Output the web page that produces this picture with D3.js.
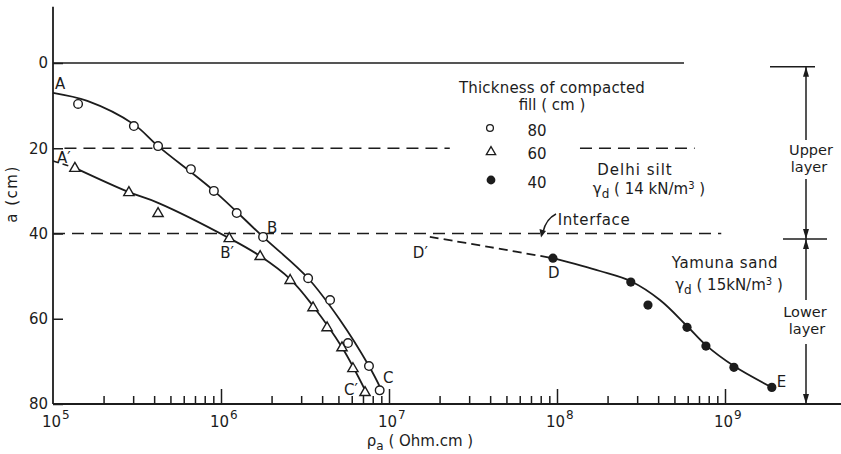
<!DOCTYPE html>
<html>
<head>
<meta charset="utf-8">
<script src="https://cdn.jsdelivr.net/npm/d3@7"></script>
<style>
  html, body { margin: 0; padding: 0; background: #fff; }
  svg { display: block; }
  text { font-family: "DejaVu Sans", sans-serif; fill: #1c1c1c; }
</style>
</head>
<body>
<svg id="chart" width="841" height="454"></svg>
<script>
// Apparent resistivity rho_a (ohm.cm) against electrode spacing a (cm)
// for three thicknesses of compacted fill over sand.

// 80 cm fill (open circles)
const fill80Rho   = [1.41e5, 3.03e5, 4.22e5, 6.62e5, 9.07e5, 1.24e6, 1.78e6, 3.3e6, 4.46e6, 5.7e6, 7.6e6, 8.8e6];
const fill80Depth = [9.6, 14.8, 19.5, 24.9, 30.0, 35.2, 40.8, 50.5, 55.6, 65.7, 71.1, 76.8];

// 60 cm fill (open triangles)
const fill60Rho   = [1.35e5, 2.83e5, 4.22e5, 1.12e6, 1.71e6, 2.58e6, 3.53e6, 4.28e6, 5.25e6, 6.1e6, 7.2e6];
const fill60Depth = [24.6, 30.3, 35.2, 41.1, 45.3, 50.9, 57.3, 62.0, 66.7, 71.6, 77.2];

// 40 cm fill (filled circles)
const fill40Rho   = [9.46e7, 2.75e8, 3.48e8, 5.94e8, 7.7e8, 1.13e9, 1.9e9];
const fill40Depth = [45.8, 51.4, 56.8, 62.0, 66.4, 71.4, 76.1];

// Fitted curves A–B–C, A'–B'–C' and D'–D–E
const curveARho     = [1e5, 1.6e5, 3.03e5, 4.22e5, 9.08e5, 1.78e6, 3.3e6, 5.11e6, 7.6e6, 8.96e6];
const curveADepth   = [7.0, 8.9, 14.4, 19.5, 30.0, 40.8, 50.5, 60.3, 71.1, 76.5];
const curveA1DashRho   = [1e5, 1.35e5];
const curveA1DashDepth = [23.0, 24.6];
const curveA1Rho    = [1.35e5, 2.83e5, 4.22e5, 1.12e6, 1.71e6, 2.58e6, 3.53e6, 5.25e6, 7.3e6];
const curveA1Depth  = [24.6, 30.3, 32.8, 41.1, 45.3, 50.7, 57.0, 66.7, 77.2];
const curveDDashRho   = [1.75e7, 4.0e7, 9.46e7];
const curveDDashDepth = [40.8, 43.2, 45.8];
const curveDRho     = [9.46e7, 1.8e8, 2.75e8, 4.1e8, 5.94e8, 7.7e8, 1.13e9, 1.9e9];
const curveDDepth   = [45.8, 48.8, 51.2, 55.6, 61.7, 66.2, 71.1, 76.1];

// Axis ticks
const yTicks = [0, 20, 40, 60, 80];
const decadeTicks = [1e5, 1e6, 1e7, 1e8, 1e9];
const decadeExponents = ["5", "6", "7", "8", "9"];
const minorTicks = [1e5, 1e6, 1e7, 1e8].flatMap(d => [2, 3, 4, 5, 6, 7, 8, 9].map(m => m * d));

// Layer boundaries
const surfaceDepth = 0;
const siltLineDepth = 20;
const interfaceDepth = 40;

const ink = "#1c1c1c";
const svg = d3.select("#chart");

const x = d3.scaleLog().domain([1e5, 1e9]).range([53, 725]);
const y = d3.scaleLinear().domain([0, 80]).range([63, 404]);

const line = d3.line()
  .x(d => x(d[0])).y(d => y(d[1]))
  .curve(d3.curveCatmullRom.alpha(0.5));
const zip = (a, b) => a.map((v, i) => [v, b[i]]);

// ---- axes ----
const axisG = svg.append("g");
axisG.append("line")
  .attr("x1", 53).attr("x2", 53).attr("y1", y(-13.2)).attr("y2", y(80))
  .attr("stroke", ink).attr("stroke-width", 1.8);
axisG.append("line")
  .attr("x1", 53).attr("x2", 841).attr("y1", y(80)).attr("y2", y(80))
  .attr("stroke", ink).attr("stroke-width", 1.8);

const minorAxis = svg.append("g").attr("transform", `translate(0,${y(80)})`)
  .call(d3.axisBottom(x).tickValues(minorTicks).tickSize(-8).tickSizeOuter(0).tickFormat(""));
const majorAxis = svg.append("g").attr("transform", `translate(0,${y(80)})`)
  .call(d3.axisBottom(x).tickValues(decadeTicks.slice(1)).tickSize(-15).tickSizeOuter(0).tickFormat(""));
[minorAxis, majorAxis].forEach(g => {
  g.select(".domain").remove();
  g.selectAll(".tick line").attr("stroke", ink).attr("stroke-width", 1.5);
});

const leftAxis = svg.append("g").attr("transform", "translate(53,0)")
  .call(d3.axisLeft(y).tickValues(yTicks).tickSize(-10).tickPadding(5));
leftAxis.select(".domain").remove();
leftAxis.selectAll(".tick line").attr("stroke", ink).attr("stroke-width", 1.5);
leftAxis.selectAll(".tick text")
  .attr("fill", ink).style("font-size", "15px")
  .style("font-family", "'DejaVu Sans', sans-serif");

// decade labels: 10 with superscript exponent
decadeTicks.forEach((v, i) => {
  const cx = x(v);
  svg.append("text").attr("x", cx + 8).attr("y", 427)
    .attr("text-anchor", "end").style("font-size", "15px").text("10");
  svg.append("text").attr("x", cx + 9).attr("y", 419)
    .attr("text-anchor", "start").style("font-size", "12px").text(decadeExponents[i]);
});

// axis titles
const xTitle = svg.append("text").attr("x", 420).attr("y", 446)
  .attr("text-anchor", "middle").style("font-size", "15px");
xTitle.append("tspan").text("ρ");
xTitle.append("tspan").attr("dy", 4).style("font-size", "12px").text("a");
xTitle.append("tspan").attr("dy", -4).text(" ( Ohm.cm )");

svg.append("text")
  .attr("transform", "translate(17,194) rotate(-90)")
  .attr("text-anchor", "middle").style("font-size", "15px")
  .style("letter-spacing", "1.5px").text("a (cm)");

// ---- reference lines ----
svg.append("line")
  .attr("x1", 53).attr("x2", x(5.7e8)).attr("y1", y(surfaceDepth)).attr("y2", y(surfaceDepth))
  .attr("stroke", ink).attr("stroke-width", 1.6);

const dash = "12,7";
[[1.17e5, 2.3e7], [1.37e8, 6.6e8]].forEach(([a, b]) => {
  svg.append("line")
    .attr("x1", x(a)).attr("x2", x(b)).attr("y1", y(siltLineDepth)).attr("y2", y(siltLineDepth))
    .attr("stroke", ink).attr("stroke-width", 1.5).attr("stroke-dasharray", dash);
});
svg.append("line")
  .attr("x1", 53).attr("x2", x(9.5e8)).attr("y1", y(interfaceDepth)).attr("y2", y(interfaceDepth))
  .attr("stroke", ink).attr("stroke-width", 1.5).attr("stroke-dasharray", dash);

// ---- curves ----
const curves = svg.append("g").attr("fill", "none").attr("stroke", ink);
curves.append("path").attr("d", line(zip(curveARho, curveADepth))).attr("stroke-width", 1.8);
curves.append("path").attr("d", line(zip(curveA1Rho, curveA1Depth))).attr("stroke-width", 1.8);
curves.append("path").attr("d", line(zip(curveDRho, curveDDepth))).attr("stroke-width", 1.8);
curves.append("path").attr("d", line(zip(curveA1DashRho, curveA1DashDepth)))
  .attr("stroke-width", 1.6).attr("stroke-dasharray", "6,4");
curves.append("path").attr("d", line(zip(curveDDashRho, curveDDashDepth)))
  .attr("stroke-width", 1.8).attr("stroke-dasharray", "9,5");

// ---- markers ----
const tri = d3.symbol(d3.symbolTriangle, 46);
svg.append("g").selectAll("circle").data(zip(fill80Rho, fill80Depth)).join("circle")
  .attr("cx", d => x(d[0])).attr("cy", d => y(d[1])).attr("r", 4.3)
  .attr("fill", "#fff").attr("stroke", ink).attr("stroke-width", 1.4);
svg.append("g").selectAll("path").data(zip(fill60Rho, fill60Depth)).join("path")
  .attr("d", tri).attr("transform", d => `translate(${x(d[0])},${y(d[1]) + 0.5})`)
  .attr("fill", "#fff").attr("stroke", ink).attr("stroke-width", 1.4);
svg.append("g").selectAll("circle").data(zip(fill40Rho, fill40Depth)).join("circle")
  .attr("cx", d => x(d[0])).attr("cy", d => y(d[1])).attr("r", 4.6)
  .attr("fill", ink);

// ---- point labels ----
const pointLabels = [
  { t: "A",  rho: 1e5,    depth: 7.0,  dx: 2,   dy: -4 },
  { t: "A′", rho: 1e5,    depth: 23.0, dx: 4,   dy: 2 },
  { t: "B",  rho: 1.78e6, depth: 40.8, dx: 4,   dy: -4 },
  { t: "B′", rho: 1.12e6, depth: 41.1, dx: -9,  dy: 20 },
  { t: "C",  rho: 8.96e6, depth: 76.5, dx: 2,   dy: -6 },
  { t: "C′", rho: 7.3e6,  depth: 77.2, dx: -22, dy: 3 },
  { t: "D′", rho: 1.75e7, depth: 40.8, dx: -17, dy: 21 },
  { t: "D",  rho: 9.46e7, depth: 45.8, dx: -5,  dy: 20 },
  { t: "E",  rho: 1.9e9,  depth: 76.1, dx: 5,   dy: 0 }
];
svg.append("g").selectAll("text").data(pointLabels).join("text")
  .attr("x", d => x(d.rho) + d.dx).attr("y", d => y(d.depth) + d.dy)
  .style("font-size", "15px").text(d => d.t);

// ---- legend ----
const legend = svg.append("g").style("font-size", "15px");
legend.append("text").attr("x", 552).attr("y", 93).attr("text-anchor", "middle")
  .style("letter-spacing", "0.2px").text("Thickness of compacted");
legend.append("text").attr("x", 552).attr("y", 110).attr("text-anchor", "middle")
  .text("fill ( cm )");
const legendRows = [
  { label: "80", cy: 128 },
  { label: "60", cy: 151 },
  { label: "40", cy: 180 }
];
legend.append("circle").attr("cx", 490).attr("cy", legendRows[0].cy).attr("r", 3.4)
  .attr("fill", "#fff").attr("stroke", ink).attr("stroke-width", 1.3);
legend.append("path").attr("d", d3.symbol(d3.symbolTriangle, 38))
  .attr("transform", `translate(491,${legendRows[1].cy + 1})`)
  .attr("fill", "#fff").attr("stroke", ink).attr("stroke-width", 1.3);
legend.append("circle").attr("cx", 491).attr("cy", legendRows[2].cy).attr("r", 4.4)
  .attr("fill", ink);
legendRows.forEach(r => {
  legend.append("text").attr("x", 537).attr("y", r.cy + 8).attr("text-anchor", "middle").text(r.label);
});

// soil annotations
function gammaLabel(cx, baseline, value) {
  const t = svg.append("text").attr("x", cx).attr("y", baseline)
    .attr("text-anchor", "middle").style("font-size", "15px");
  t.append("tspan").text("γ");
  t.append("tspan").attr("dy", 4).style("font-size", "12px").text("d");
  t.append("tspan").attr("dy", -4).text(` ( ${value}kN/m`);
  t.append("tspan").attr("dy", -5).style("font-size", "10px").text("3");
  t.append("tspan").attr("dy", 5).text(" )");
}
svg.append("text").attr("x", 635).attr("y", 175).attr("text-anchor", "middle")
  .style("font-size", "15px").style("letter-spacing", "1px").text("Delhi silt");
gammaLabel(649, 194, "14 ");
svg.append("text").attr("x", 725).attr("y", 268).attr("text-anchor", "middle")
  .style("font-size", "15px").style("letter-spacing", "0.6px").text("Yamuna sand");
gammaLabel(729, 290, "15");

svg.append("text").attr("x", 594).attr("y", 225).attr("text-anchor", "middle")
  .style("font-size", "15px").style("letter-spacing", "0.6px").text("Interface");
// leader to the interface line
svg.append("path").attr("d", "M556,214 Q546,219 543,232")
  .attr("fill", "none").attr("stroke", ink).attr("stroke-width", 1.4);
svg.append("path").attr("d", "M541,237.5 L539.5,229 L546,231 Z").attr("fill", ink);

// ---- layer dimension lines ----
const dimX = 806;
const dim = svg.append("g").attr("stroke", ink).attr("stroke-width", 1.5);
dim.append("line").attr("x1", 770).attr("x2", 815).attr("y1", y(0.9)).attr("y2", y(0.9));
dim.append("line").attr("x1", 783).attr("x2", 827).attr("y1", y(41.3)).attr("y2", y(41.3));
[[y(0.9), 140], [179, y(41.3)], [y(41.3), 300], [344, y(80)]].forEach(([a, b]) => {
  dim.append("line").attr("x1", dimX).attr("x2", dimX).attr("y1", a).attr("y2", b);
});
function arrowHead(tipY, dir) {
  // dir = -1 points up, +1 points down
  const L = 10, w = 3;
  svg.append("path")
    .attr("d", `M${dimX},${tipY} L${dimX - w},${tipY - dir * L} L${dimX + w},${tipY - dir * L} Z`)
    .attr("fill", ink);
}
arrowHead(y(0.9), -1);
arrowHead(y(41.3), 1);
arrowHead(y(41.3), -1);
arrowHead(y(80), 1);

const layerText = [
  { t: "Upper", cx: 811, by: 155 },
  { t: "layer", cx: 809, by: 172 },
  { t: "Lower", cx: 805, by: 317 },
  { t: "layer", cx: 807, by: 334 }
];
svg.append("g").selectAll("text").data(layerText).join("text")
  .attr("x", d => d.cx).attr("y", d => d.by).attr("text-anchor", "middle")
  .style("font-size", "14.5px").text(d => d.t);
</script>
</body>
</html>
